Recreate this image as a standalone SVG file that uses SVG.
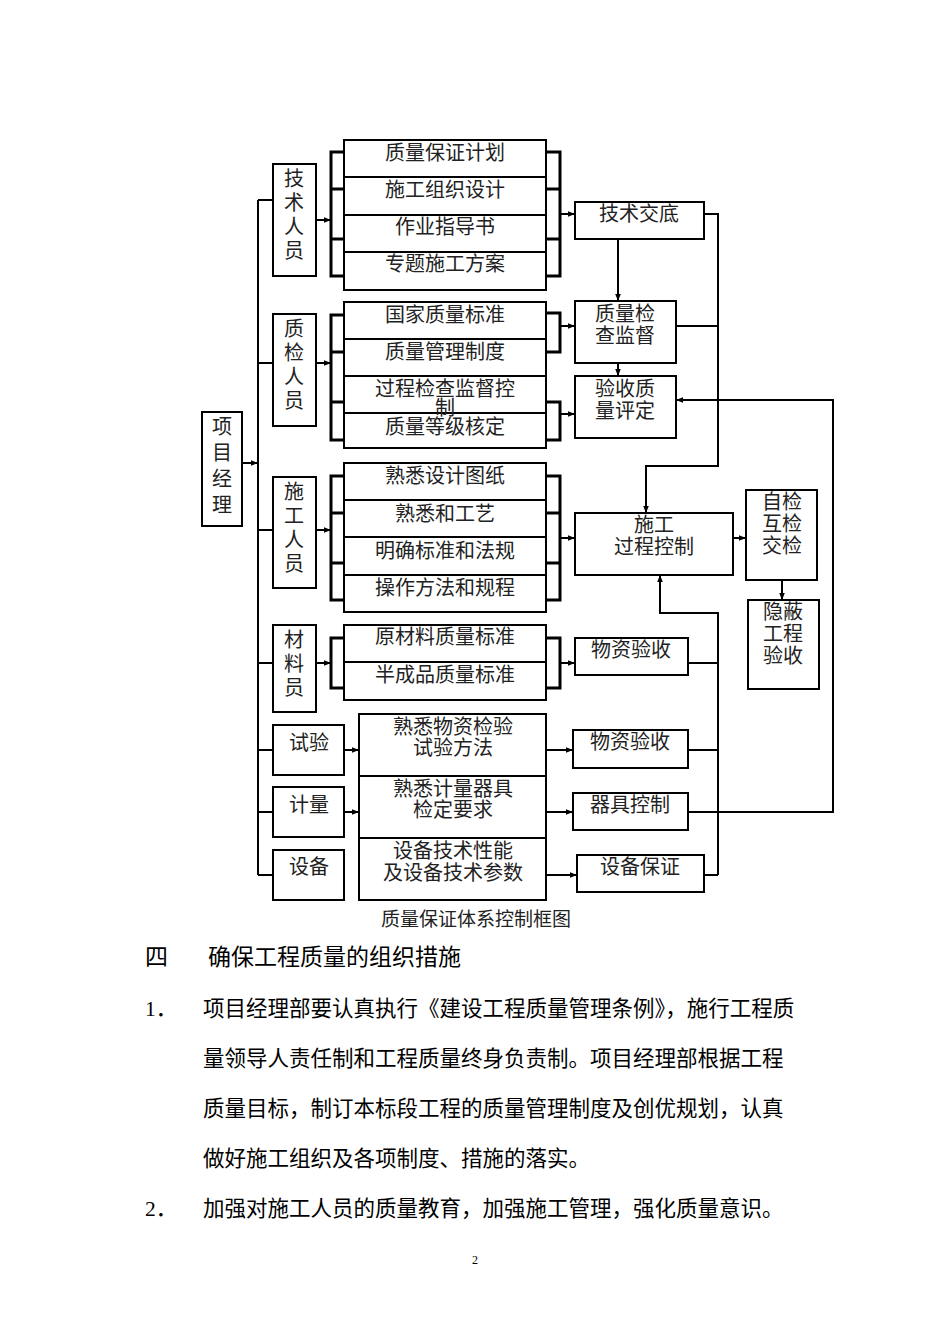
<svg xmlns="http://www.w3.org/2000/svg" width="950" height="1344" viewBox="0 0 950 1344">
<defs>
<marker id="a" viewBox="0 0 10 10" refX="10" refY="5" markerWidth="7" markerHeight="7" markerUnits="userSpaceOnUse" orient="auto"><path d="M0,1 L10,5 L0,9 z" fill="#000"/></marker>
<style>
.b{fill:#fff;stroke:#000;stroke-width:2}
.t{font-family:"Liberation Sans","Noto Sans CJK SC",sans-serif;font-size:20px;fill:#222;text-anchor:middle}
.p{font-family:"Liberation Serif","Noto Sans CJK SC",serif;font-size:21.5px;fill:#000}
.l{fill:none;stroke:#000;stroke-width:2}
.k{fill:none;stroke:#000;stroke-width:3}
.r{fill:none;stroke:#000;stroke-width:2;marker-end:url(#a)}
</style>
</defs>
<rect width="950" height="1344" fill="#fff"/>
<g id="connectors">
<path class="l" d="M258,200 V875 M258,200 H273 M258,363 H273 M258,530 H273 M258,663 H273 M258,750 H273 M258,812 H273 M258,875 H273"/>
<path class="r" d="M242,463 H258"/>
<path class="k" d="M344,152 H331 V276 H344 M331,189 H344 M331,239 H344"/>
<path class="r" d="M316,220 H331"/>
<path class="k" d="M546,152 H560 V276 H546 M546,189 H560 M546,239 H560"/>
<path class="r" d="M560,214 H575"/>
<path class="k" d="M344,315 H331 V440 H344 M331,352 H344 M331,402 H344"/>
<path class="r" d="M316,363 H331"/>
<path class="k" d="M546,313 H560 V352 H546 M546,402 H560 V440 H546"/>
<path class="r" d="M560,326 H575"/>
<path class="r" d="M560,414 H575"/>
<path class="r" d="M618,239 V301"/>
<path class="r" d="M618,363 V376"/>
<path class="r" d="M704,214 H718 V466 H646 V513"/>
<path class="l" d="M676,326 H718"/>
<path class="k" d="M344,476 H331 V600 H344 M331,513 H344 M331,563 H344"/>
<path class="r" d="M316,530 H331"/>
<path class="k" d="M546,476 H560 V600 H546 M546,513 H560 M546,563 H560"/>
<path class="r" d="M560,538 H575"/>
<path class="r" d="M733,538 H746"/>
<path class="r" d="M782,580 V600"/>
<path class="k" d="M344,638 H331 V688 H344"/>
<path class="r" d="M316,663 H331"/>
<path class="k" d="M546,638 H560 V688 H546"/>
<path class="r" d="M560,663 H575"/>
<path class="r" d="M344,750 H359"/>
<path class="r" d="M344,812 H359"/>
<path class="r" d="M546,750 H573"/>
<path class="r" d="M546,812 H573"/>
<path class="r" d="M546,875 H577"/>
<path class="r" d="M718,875 V613 H660 V575"/>
<path class="l" d="M688,663 H718 M688,750 H718 M704,875 H718"/>
<path class="r" d="M688,812 H833 V400 H676"/>
</g>
<g id="pm"><rect class="b" x="202" y="412" width="40" height="114"/><text class="t" x="222" y="434">项</text><text class="t" x="222" y="460">目</text><text class="t" x="222" y="486">经</text><text class="t" x="222" y="512">理</text></g>
<g id="r1"><rect class="b" x="273" y="164" width="43" height="112"/><text class="t" x="294" y="186">技</text><text class="t" x="294" y="210">术</text><text class="t" x="294" y="234">人</text><text class="t" x="294" y="258">员</text></g>
<g id="r2"><rect class="b" x="273" y="314" width="43" height="112"/><text class="t" x="294" y="336">质</text><text class="t" x="294" y="360">检</text><text class="t" x="294" y="384">人</text><text class="t" x="294" y="408">员</text></g>
<g id="r3"><rect class="b" x="273" y="477" width="43" height="111"/><text class="t" x="294" y="499">施</text><text class="t" x="294" y="523">工</text><text class="t" x="294" y="547">人</text><text class="t" x="294" y="571">员</text></g>
<g id="r4"><rect class="b" x="273" y="625" width="43" height="87"/><text class="t" x="294" y="647">材</text><text class="t" x="294" y="671">料</text><text class="t" x="294" y="695">员</text></g>
<g id="r5"><rect class="b" x="273" y="725" width="71" height="50"/><text class="t" x="309" y="750">试验</text></g>
<g id="r6"><rect class="b" x="273" y="787" width="71" height="50"/><text class="t" x="309" y="812">计量</text></g>
<g id="r7"><rect class="b" x="273" y="850" width="71" height="50"/><text class="t" x="309" y="874">设备</text></g>
<g id="i1"><rect class="b" x="344" y="140" width="202" height="150"/><path class="l" d="M344,177 H546 M344,215 H546 M344,252 H546"/>
<text class="t" x="445" y="160">质量保证计划</text><text class="t" x="445" y="197">施工组织设计</text><text class="t" x="445" y="234">作业指导书</text><text class="t" x="445" y="271">专题施工方案</text></g>
<g id="i2"><rect class="b" x="344" y="302" width="202" height="146"/><path class="l" d="M344,339 H546 M344,376 H546 M344,413 H546"/>
<text class="t" x="445" y="322">国家质量标准</text><text class="t" x="445" y="359">质量管理制度</text><text class="t" x="445" y="396">过程检查监督控</text><text class="t" x="445" y="415">制</text><text class="t" x="445" y="434">质量等级核定</text></g>
<g id="i3"><rect class="b" x="344" y="463" width="202" height="149"/><path class="l" d="M344,500 H546 M344,537 H546 M344,575 H546"/>
<text class="t" x="445" y="483">熟悉设计图纸</text><text class="t" x="445" y="521">熟悉和工艺</text><text class="t" x="445" y="558">明确标准和法规</text><text class="t" x="445" y="595">操作方法和规程</text></g>
<g id="i4"><rect class="b" x="344" y="625" width="202" height="75"/><path class="l" d="M344,662 H546"/>
<text class="t" x="445" y="644">原材料质量标准</text><text class="t" x="445" y="682">半成品质量标准</text></g>
<g id="i5"><rect class="b" x="359" y="714" width="187" height="62"/><text class="t" x="453" y="734">熟悉物资检验</text><text class="t" x="453" y="755">试验方法</text></g>
<g id="i6"><rect class="b" x="359" y="776" width="187" height="62"/><text class="t" x="453" y="796">熟悉计量器具</text><text class="t" x="453" y="817">检定要求</text></g>
<g id="i7"><rect class="b" x="359" y="838" width="187" height="62"/><text class="t" x="453" y="858">设备技术性能</text><text class="t" x="453" y="880">及设备技术参数</text></g>
<g id="jsjd"><rect class="b" x="575" y="202" width="129" height="37"/><text class="t" x="639" y="221">技术交底</text></g>
<g id="zljc"><rect class="b" x="575" y="301" width="101" height="62"/><text class="t" x="625" y="321">质量检</text><text class="t" x="625" y="343">查监督</text></g>
<g id="yspd"><rect class="b" x="575" y="376" width="101" height="62"/><text class="t" x="625" y="396">验收质</text><text class="t" x="625" y="418">量评定</text></g>
<g id="sgkz"><rect class="b" x="575" y="513" width="158" height="62"/><text class="t" x="654" y="532">施工</text><text class="t" x="654" y="554">过程控制</text></g>
<g id="zj"><rect class="b" x="746" y="490" width="71" height="90"/><text class="t" x="782" y="509">自检</text><text class="t" x="782" y="531">互检</text><text class="t" x="782" y="553">交检</text></g>
<g id="yb"><rect class="b" x="748" y="600" width="71" height="89"/><text class="t" x="783" y="619">隐蔽</text><text class="t" x="783" y="641">工程</text><text class="t" x="783" y="663">验收</text></g>
<g id="wz1"><rect class="b" x="575" y="638" width="113" height="37"/><text class="t" x="631" y="657">物资验收</text></g>
<g id="wz2"><rect class="b" x="573" y="730" width="115" height="38"/><text class="t" x="630" y="749">物资验收</text></g>
<g id="qj"><rect class="b" x="573" y="793" width="115" height="37"/><text class="t" x="630" y="812">器具控制</text></g>
<g id="sb"><rect class="b" x="577" y="855" width="127" height="37"/><text class="t" x="640" y="874">设备保证</text></g>
<text class="t" x="476" y="926" style="font-size:19px">质量保证体系控制框图</text>
<text class="p" x="145" y="965" style="font-size:23px">四</text>
<text class="p" x="208" y="965" style="font-size:23px">确保工程质量的组织措施</text>
<text class="p" x="145" y="1016">1．</text>
<text class="p" x="203" y="1016">项目经理部要认真执行《建设工程质量管理条例》，施行工程质</text>
<text class="p" x="203" y="1066">量领导人责任制和工程质量终身负责制。项目经理部根据工程</text>
<text class="p" x="203" y="1116">质量目标，制订本标段工程的质量管理制度及创优规划，认真</text>
<text class="p" x="203" y="1166">做好施工组织及各项制度、措施的落实。</text>
<text class="p" x="145" y="1216">2．</text>
<text class="p" x="203" y="1216">加强对施工人员的质量教育，加强施工管理，强化质量意识。</text>
<text class="p" x="475" y="1264" style="font-size:12px;text-anchor:middle">2</text>
</svg>
